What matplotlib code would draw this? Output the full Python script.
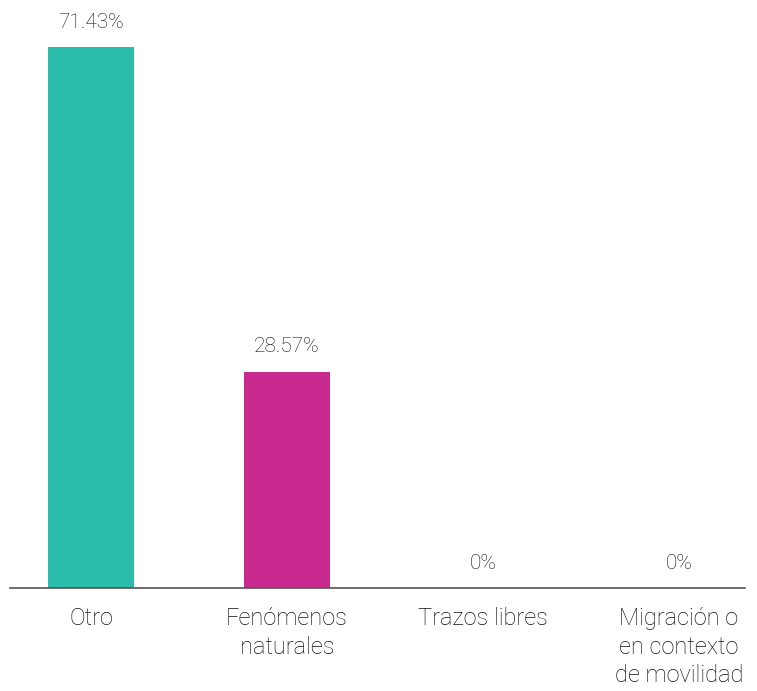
import matplotlib
matplotlib.use('Agg')
import matplotlib.pyplot as plt

categories = ["Otro", "Fenómenos\nnaturales", "Trazos libres",
              "Migración o\nen contexto\nde movilidad"]
values = [71.43, 28.57, 0, 0]
value_labels = ["71.43%", "28.57%", "0%", "0%"]
colors = ["#2bbcab", "#c92a90", "#2bbcab", "#c92a90"]

plt.rcParams['font.family'] = ['Roboto', 'DejaVu Sans']

fig = plt.figure(figsize=(7.57, 6.91), dpi=100)
ax = fig.add_axes([0.0132, 0.149, 0.971, 0.836])

x = range(len(categories))
ax.bar(x, values, width=0.44, color=colors)

for i, (v, lab) in enumerate(zip(values, value_labels)):
    ax.annotate(lab, (i, v), xytext=(0, 11), textcoords='offset points',
                ha='center', va='bottom', fontsize=15, fontweight='light',
                color='#111111')

ax.set_xlim(-0.413, 3.337)
ax.set_ylim(0, 76.3)
ax.set_xticks(list(x))
ax.set_xticklabels(categories, fontsize=17, fontweight='light',
                   color='#111111', linespacing=1.3)
ax.tick_params(axis='x', length=0, pad=14)
ax.set_yticks([])
for s in ['top', 'right', 'left']:
    ax.spines[s].set_visible(False)
ax.spines['bottom'].set_color('#555555')
ax.spines['bottom'].set_linewidth(1.2)

fig.savefig('out.png', dpi=100)
